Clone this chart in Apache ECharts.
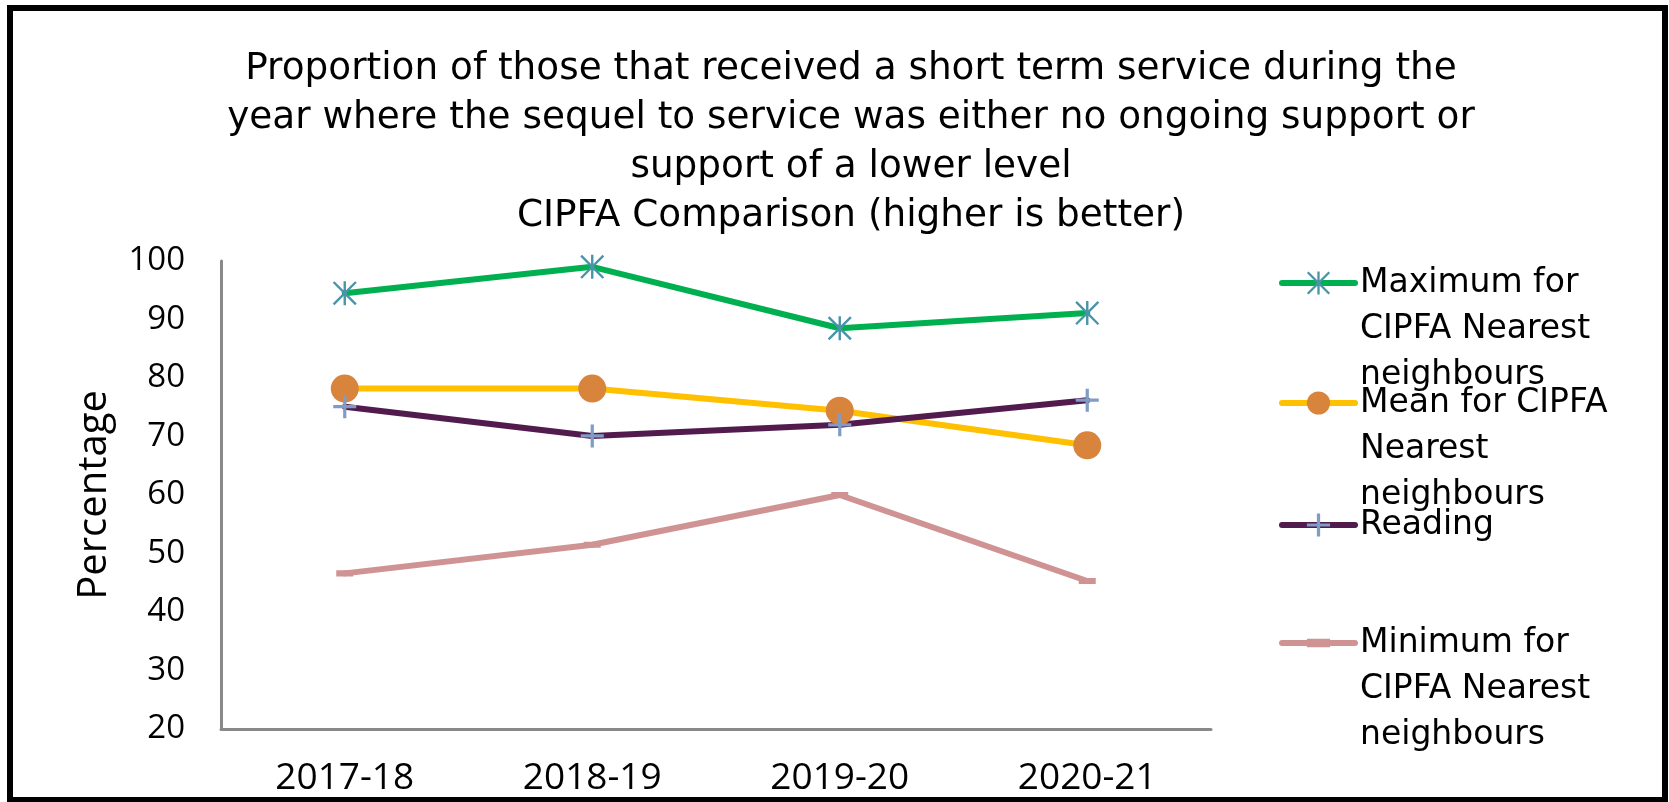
<!DOCTYPE html>
<html>
<head>
<meta charset="utf-8">
<script src="https://cdn.jsdelivr.net/npm/echarts@6/dist/echarts.min.js"></script>
<style>
  html, body { margin: 0; padding: 0; background: #fff; }
  #chart { width: 1669px; height: 802px; }
</style>
</head>
<body>
<div id="chart"></div>
<script>
var categories = ['2017-18', '2018-19', '2019-20', '2020-21'];
var maxValues = [94.5, 99.0, 88.5, 91.1];
var meanValues = [78.2, 78.2, 74.4, 68.5];
var readingValues = [75.1, 70.1, 72.0, 76.2];
var minValues = [46.6, 51.5, 60.0, 45.3];
var seriesNames = [
    'Maximum for CIPFA Nearest neighbours',
    'Mean for CIPFA Nearest neighbours',
    'Reading',
    'Minimum for CIPFA Nearest neighbours'
];
var legendLabels = [
    'Maximum for\nCIPFA Nearest\nneighbours',
    'Mean for CIPFA\nNearest\nneighbours',
    'Reading',
    'Minimum for\nCIPFA Nearest\nneighbours'
];
var titleText = 'Proportion of those that received a short term service during the\n' +
    'year where the sequel to service was either no ongoing support or\n' +
    'support of a lower level\n' +
    'CIPFA Comparison (higher is better)';

var starPath = 'path://M45 0L55 0L55 100L45 100Z M7 0L100 93L93 100L0 7Z M93 0L100 7L7 100L0 93Z';
var plusPath = 'path://M43 0L57 0L57 43L100 43L100 57L57 57L57 100L43 100L43 57L0 57L0 43L43 43Z';
var dashPath = 'path://M0 0L0.1 0M100 100L100.1 100M0 32L100 32L100 68L0 68Z';

var chart = echarts.init(document.getElementById('chart'));

// one legend per series so each entry can sit where Excel put it;
// blank lines in front keep the first text line level with the icon
function makeLegend(i, top) {
    var lines = legendLabels[i].split('\n').length;
    var pad = new Array(lines).join('\n');
    return {
        data: [seriesNames[i]],
        orient: 'vertical',
        left: 1279,
        top: top,
        padding: 0,
        itemWidth: 73,
        itemHeight: 29,
        lineStyle: { width: 6 },
        formatter: function () { return pad + legendLabels[i]; },
        textStyle: {
            fontFamily: 'DejaVu Sans',
            fontSize: 33,
            lineHeight: 46,
            color: '#000'
        }
    };
}

function lineSeries(i, values, lineColor, markColor, symbol, size) {
    return {
        name: seriesNames[i],
        type: 'line',
        data: values,
        symbol: symbol,
        symbolSize: size,
        showAllSymbol: true,
        lineStyle: { color: lineColor, width: 6, cap: 'round', join: 'round' },
        itemStyle: { color: markColor, borderWidth: 0 },
        emphasis: { disabled: true }
    };
}

var option = {
    animation: false,
    backgroundColor: '#fff',
    legend: [
        makeLegend(0, 168),
        makeLegend(1, 288),
        makeLegend(2, 502),
        makeLegend(3, 528)
    ],
    grid: { left: 221, right: 458, top: 261, bottom: 73 },
    xAxis: {
        type: 'category',
        data: categories,
        axisLine: { lineStyle: { color: '#898989', width: 3 } },
        axisTick: { show: false },
        axisLabel: {
            fontFamily: 'Open Sans',
            fontSize: 37,
            color: '#000',
            margin: 31
        }
    },
    yAxis: {
        type: 'value',
        min: 20,
        max: 100,
        interval: 10,
        name: 'Percentage',
        nameLocation: 'middle',
        nameGap: 106,
        nameTextStyle: { fontFamily: 'Open Sans', fontSize: 40, color: '#000' },
        axisLine: { show: true, lineStyle: { color: '#898989', width: 3 } },
        axisTick: { show: false },
        splitLine: { show: false },
        axisLabel: {
            fontFamily: 'Open Sans',
            fontSize: 33,
            color: '#000',
            margin: 36
        }
    },
    series: [
        lineSeries(0, maxValues, '#00B050', '#4A94AA', starPath, 24),
        lineSeries(1, meanValues, '#FFC000', '#D9843C', 'circle', 28),
        lineSeries(2, readingValues, '#521B4E', '#7F9CC6', plusPath, 23),
        lineSeries(3, minValues, '#D09393', '#D09393', dashPath, 17)
    ],
    graphic: [{
        type: 'text',
        x: 851,
        y: 45,
        silent: true,
        style: {
            text: titleText,
            align: 'center',
            verticalAlign: 'top',
            fontFamily: 'DejaVu Sans',
            fontSize: 37.4,
            lineHeight: 49,
            fill: '#000'
        }
    }, {
        type: 'rect',
        shape: { x: 10, y: 8, width: 1655, height: 792 },
        style: { fill: 'none', stroke: '#000', lineWidth: 6 },
        silent: true
    }]
};

chart.setOption(option);
</script>
</body>
</html>
